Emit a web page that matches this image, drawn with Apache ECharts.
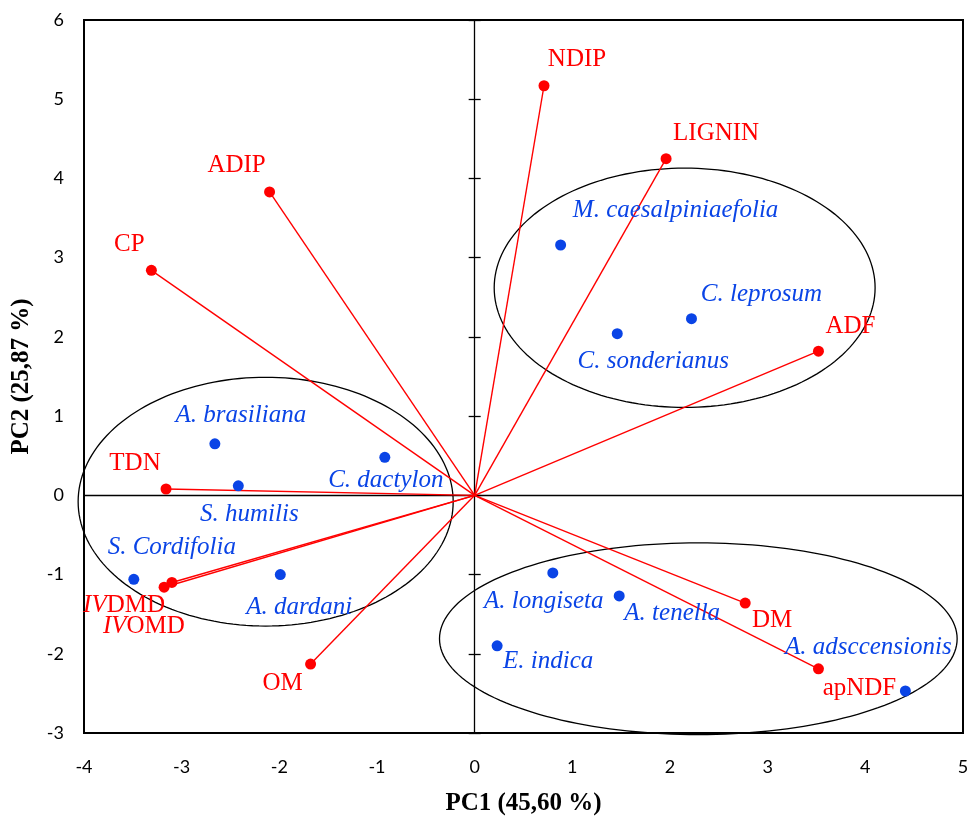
<!DOCTYPE html>
<html>
<head>
<meta charset="utf-8">
<script src="https://cdn.jsdelivr.net/npm/echarts@6/dist/echarts.min.js"></script>
<style>html,body{margin:0;padding:0;background:#fff}#c{width:978px;height:817px}</style>
</head>
<body>
<div id="c"></div>
<script>
// ---- data ----
const xTicks = [-4, -3, -2, -1, 0, 1, 2, 3, 4, 5];
const yTicks = [-3, -2, -1, 0, 1, 2, 3, 4, 5, 6];
const varNames = ['NDIP', 'LIGNIN', 'ADIP', 'CP', 'ADF', 'TDN', 'IVDMD', 'IVOMD', 'OM', 'DM', 'apNDF'];
const varPC1 = [0.71, 1.96, -2.10, -3.31, 3.52, -3.16, -3.18, -3.10, -1.68, 2.77, 3.52];
const varPC2 = [5.17, 4.25, 3.83, 2.84, 1.82, 0.08, -1.16, -1.10, -2.13, -1.36, -2.19];
const spNames = ['M. caesalpiniaefolia', 'C. leprosum', 'C. sonderianus', 'A. brasiliana', 'S. humilis', 'C. dactylon', 'S. Cordifolia', 'A. dardani', 'A. longiseta', 'A. tenella', 'E. indica', 'A. adsccensionis'];
const spPC1 = [0.88, 2.22, 1.46, -2.66, -2.42, -0.92, -3.49, -1.99, 0.80, 1.48, 0.23, 4.41];
const spPC2 = [3.16, 2.23, 2.04, 0.65, 0.12, 0.48, -1.06, -1.00, -0.98, -1.27, -1.90, -2.47];
// group ellipses: centre PC1, centre PC2, half-width, half-height (axis units)
const ellCx = [2.15, -2.14, 2.29];
const ellCy = [2.62, -0.08, -1.81];
const ellRx = [1.95, 1.92, 2.65];
const ellRy = [1.51, 1.57, 1.21];

// ---- label placement (pixel offsets from the marker) ----
const varLabelOffset = [[33,-26],[50,-25],[-33,-26],[-22,-26],[32,-25],[-31,-26],[-40,18],[-28,44],[-28,19],[27,17],[41,20]];
const spLabelOffset = [[115,-35],[70,-24],[36,28],[26,-28],[11,29],[1,23],[38,-32],[19,33],[-9,28],[53,17],[51,16],[-37,-44]];

const RED = '#ff0000';
const BLUE = '#0a44e6';
const SERIF = '"Liberation Serif", "Times New Roman", serif';
const TICKFONT = 'Lato, "Open Sans", sans-serif';

const gridRect = { left: 84, right: 15, top: 20, bottom: 84, containLabel: false, outerBoundsMode: 'none' };

const varData = varNames.map((n, i) => {
  const item = { value: [varPC1[i], varPC2[i]], name: n,
    label: { offset: varLabelOffset[i] } };
  if (n === 'IVDMD' || n === 'IVOMD') {
    item.label.formatter = '{i|IV}{n|' + n.slice(2) + '}';
  }
  return item;
});
const spData = spNames.map((n, i) => ({ value: [spPC1[i], spPC2[i]], name: n,
  label: { offset: spLabelOffset[i] } }));

const ellData = ellCx.map((c, i) => [c, ellCy[i], ellRx[i], ellRy[i]]);

const chart = echarts.init(document.getElementById('c'));
chart.setOption({
  animation: false,
  backgroundColor: '#fff',
  grid: [
    Object.assign({ show: true, borderColor: '#000', borderWidth: 2, backgroundColor: 'transparent' }, gridRect),
    Object.assign({}, gridRect),
    Object.assign({}, gridRect)
  ],
  xAxis: [
    { gridIndex: 0, type: 'value', min: xTicks[0], max: xTicks[xTicks.length-1], interval: 1,
      name: 'PC1 (45,60 %)', nameLocation: 'middle', nameGap: 58,
      nameTextStyle: { fontFamily: SERIF, fontWeight: 'bold', fontSize: 25, color: '#000' },
      axisLine: { show: false }, axisTick: { show: false }, splitLine: { show: false },
      axisLabel: { fontFamily: TICKFONT, fontSize: 18, color: '#000', margin: 25 } },
    { gridIndex: 1, type: 'value', min: xTicks[0], max: xTicks[xTicks.length-1], interval: 1,
      axisLine: { show: true, onZero: true, lineStyle: { color: '#000', width: 1.3 } },
      axisTick: { show: false }, axisLabel: { show: false }, splitLine: { show: false } },
    { gridIndex: 2, type: 'value', min: xTicks[0], max: xTicks[xTicks.length-1], interval: 1,
      axisLine: { show: false, onZero: true }, axisTick: { show: false }, axisLabel: { show: false }, splitLine: { show: false } }
  ],
  yAxis: [
    { gridIndex: 0, type: 'value', min: yTicks[0], max: yTicks[yTicks.length-1], interval: 1,
      name: 'PC2 (25,87 %)', nameLocation: 'middle', nameGap: 50, nameRotate: 90,
      nameTextStyle: { fontFamily: SERIF, fontWeight: 'bold', fontSize: 25, color: '#000' },
      axisLine: { show: false }, axisTick: { show: false }, splitLine: { show: false },
      axisLabel: { fontFamily: TICKFONT, fontSize: 18, color: '#000', margin: 20 } },
    { gridIndex: 1, type: 'value', min: yTicks[0], max: yTicks[yTicks.length-1], interval: 1,
      axisLine: { show: true, onZero: true, lineStyle: { color: '#000', width: 1.3 } },
      axisTick: { show: true, inside: false, length: 6, lineStyle: { color: '#000', width: 1.3 } },
      axisLabel: { show: false }, splitLine: { show: false } },
    { gridIndex: 2, type: 'value', min: yTicks[0], max: yTicks[yTicks.length-1], interval: 1,
      axisLine: { show: false, onZero: true },
      axisTick: { show: true, inside: true, length: 6, lineStyle: { color: '#000', width: 1.3 } },
      axisLabel: { show: false }, splitLine: { show: false } }
  ],
  series: [
    { type: 'custom', xAxisIndex: 0, yAxisIndex: 0, data: ellData, silent: true, z: 3,
      renderItem: function (params, api) {
        const cx = api.value(0), cy = api.value(1), rx = api.value(2), ry = api.value(3);
        const pts = [];
        for (let k = 0; k <= 180; k++) {
          const t = k / 180 * Math.PI * 2;
          pts.push(api.coord([cx + rx * Math.cos(t), cy + ry * Math.sin(t)]));
        }
        return { type: 'polygon', shape: { points: pts },
          style: { fill: 'none', stroke: '#000', lineWidth: 1.3 } };
      } },
    { type: 'custom', xAxisIndex: 0, yAxisIndex: 0, data: varNames.map((n, i) => [varPC1[i], varPC2[i]]), silent: true, z: 4,
      renderItem: function (params, api) {
        const o = api.coord([0, 0]);
        const p = api.coord([api.value(0), api.value(1)]);
        return { type: 'line', shape: { x1: o[0], y1: o[1], x2: p[0], y2: p[1] },
          style: { stroke: RED, lineWidth: 1.4 } };
      } },
    { type: 'scatter', xAxisIndex: 0, yAxisIndex: 0, data: varData, symbol: 'circle', symbolSize: 11, z: 5,
      itemStyle: { color: RED, opacity: 1 },
      label: { show: true, position: 'inside', formatter: '{b}', color: RED,
        fontFamily: SERIF, fontSize: 25,
        rich: { i: { fontFamily: SERIF, fontSize: 25, fontStyle: 'italic', color: RED },
                n: { fontFamily: SERIF, fontSize: 25, color: RED } } } },
    { type: 'scatter', xAxisIndex: 0, yAxisIndex: 0, data: spData, symbol: 'circle', symbolSize: 11, z: 5,
      itemStyle: { color: BLUE, opacity: 1 },
      label: { show: true, position: 'inside', formatter: '{b}', color: BLUE,
        fontFamily: SERIF, fontStyle: 'italic', fontSize: 25 } }
  ]
});
</script>
</body>
</html>
